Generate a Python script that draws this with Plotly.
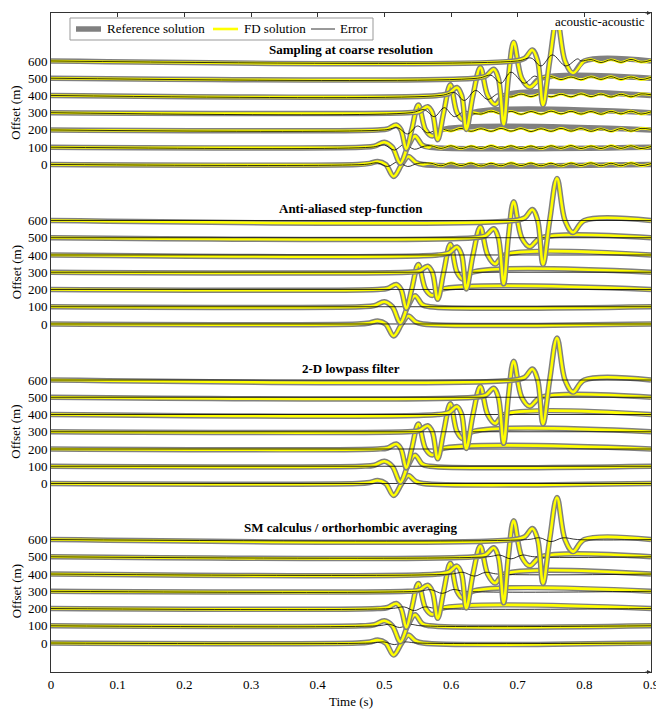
import plotly.graph_objects as go

offsets = [0, 100, 200, 300, 400, 500, 600]
offset_labels = ["0", "100", "200", "300", "400", "500", "600"]
panel_titles = ["Sampling at coarse resolution", "Anti-aliased step-function",
                "2-D lowpass filter", "SM calculus / orthorhombic averaging"]
panel_shift = [2775, 1850, 925, 0]
time_ticks = [0, 0.1, 0.2, 0.3, 0.4, 0.5, 0.6, 0.7, 0.8, 0.9]

# reference traces: key points (time s, amplitude in offset units)
ref_t = [
    [0, 0.46, 0.478, 0.49, 0.502, 0.514, 0.526, 0.536, 0.547, 0.558, 0.9],
    [0, 0.465, 0.485, 0.5, 0.512, 0.524, 0.535, 0.546, 0.557, 0.568, 0.9],
    [0, 0.49, 0.505, 0.518, 0.525, 0.533, 0.541, 0.551, 0.562, 0.572, 0.585, 0.9],
    [0, 0.535, 0.552, 0.565, 0.572, 0.58, 0.589, 0.599, 0.609, 0.618, 0.632, 0.9],
    [0, 0.58, 0.597, 0.609, 0.616, 0.623, 0.633, 0.644, 0.655, 0.666, 0.68, 0.9],
    [0, 0.635, 0.652, 0.664, 0.671, 0.679, 0.686, 0.694, 0.706, 0.718, 0.735, 0.9],
    [0, 0.695, 0.711, 0.722, 0.73, 0.738, 0.748, 0.759, 0.771, 0.783, 0.8, 0.9],
]
ref_a = [
    [0, 0, 6, 17, 0, -70, 0, 46, 12, 0, 0],
    [0, 0, 6, 29, 0, -93, 0, 64, 12, 0, 0],
    [0, 0, 6, 29, 0, -110, 0, 145, 0, -35, 0, 0],
    [0, 0, 6, 35, 0, -157, 0, 162, 0, -41, 0, 0],
    [0, 0, 12, 46, 0, -197, 0, 162, 0, -52, 0, 0],
    [0, 0, 12, 52, 0, -267, 0, 209, 0, -52, 0, 0],
    [0, 0, 17, 64, 0, -255, 0, 244, 0, -70, 0, 0],
]

# coarse sampling: ringing after the arrival
ring_t = [0.57, 0.585, 0.6, 0.615, 0.63, 0.645, 0.66, 0.675, 0.69, 0.705, 0.72, 0.735,
          0.75, 0.765, 0.78, 0.795, 0.81, 0.825, 0.84, 0.855, 0.87, 0.885, 0.9]
ring_a = [
    [7, -8, 9, -7, 8, -9, 7, -8, 9, -7, 8, -8, 7, -9, 8, -7, 9, -8, 7, -8, 9, -7, 5],
    [8, -7, 8, -9, 7, -8, 9, -7, 8, -8, 7, -9, 8, -7, 9, -8, 7, -8, 9, -7, 8, -8, 4],
    [0, 8, -7, 9, -8, 7, -8, 9, -7, 8, -9, 7, -8, 9, -7, 8, -8, 7, -9, 8, -7, 9, 4],
    [0, 0, 0, 0, 0, -8, 9, -7, 8, -9, 7, -8, 9, -7, 8, -8, 7, -9, 8, -7, 9, -8, 5],
    [0, 0, 0, 0, 0, 0, 0, 0, -9, 8, -7, 9, -8, 7, -8, 9, -7, 8, -9, 7, -8, 9, 4],
    [0, 0, 0, 0, 0, 0, 0, 0, 0, 0, 0, 0, 9, -8, 7, -9, 8, -7, 9, -8, 7, -8, 5],
    [0, 0, 0, 0, 0, 0, 0, 0, 0, 0, 0, 0, 0, 0, 0, 0, 8, -9, 7, -8, 9, -7, 4],
]

# error traces
err1_t = [
    [0, 0.47, 0.49, 0.505, 0.52, 0.535, 0.55],
    [0, 0.48, 0.5, 0.515, 0.53, 0.545, 0.56],
    [0, 0.5, 0.52, 0.535, 0.55, 0.565, 0.58],
    [0, 0.54, 0.56, 0.575, 0.59, 0.605, 0.62],
    [0, 0.585, 0.605, 0.62, 0.637, 0.655, 0.67],
    [0, 0.64, 0.66, 0.675, 0.69, 0.71, 0.725],
    [0, 0.7, 0.72, 0.735, 0.752, 0.772, 0.79],
]
err1_a = [
    [0, 0, 9, -12, 15, -12, 6],
    [0, 0, 12, -17, 17, -12, 6],
    [0, 0, 12, -23, 23, -17, 6],
    [0, 0, 17, -23, 29, -23, 9],
    [0, 0, 17, -29, 29, -23, 9],
    [0, 0, 17, -29, 35, -29, 12],
    [0, 0, 17, -29, 35, -29, 12],
]
err4_t = [
    [0, 0.48, 0.5, 0.515, 0.53, 0.55, 0.9],
    [0, 0.49, 0.508, 0.523, 0.538, 0.555, 0.9],
    [0, 0.51, 0.53, 0.545, 0.56, 0.58, 0.9],
    [0, 0.55, 0.57, 0.587, 0.603, 0.62, 0.9],
    [0, 0.6, 0.618, 0.635, 0.652, 0.67, 0.9],
    [0, 0.655, 0.673, 0.69, 0.707, 0.725, 0.9],
    [0, 0.715, 0.733, 0.75, 0.768, 0.79, 0.9],
]
err4_a = [
    [0, 0, 6, -9, 6, 0, 0],
    [0, 0, 8, -10, 8, 0, 0],
    [0, 0, 9, -12, 9, 0, 0],
    [0, 0, 9, -12, 10, 0, 0],
    [0, 0, 10, -12, 10, 0, 0],
    [0, 0, 10, -12, 10, 0, 0],
    [0, 0, 10, -12, 10, 0, 0],
]

legend_names = ["Reference solution", "FD solution", "Error"]
legend_colors = ["#808080", "#ffff00", "black"]
legend_widths = [5.5, 2.6, 0.8]

font = "Liberation Serif"
fig = go.Figure()

for p in range(4):
    s = panel_shift[p]
    for k in range(7):
        base = offsets[k] + s
        fig.add_trace(go.Scatter(
            x=ref_t[k], y=[base + a for a in ref_a[k]], yaxis="y2",
            mode="lines", line=dict(color="#808080", width=5.5, shape="spline"),
            showlegend=False))

        if p == 0:
            end = ref_t[k][-2]
            fx = ref_t[k][:-1] + [t for t in ring_t if t > end]
            fy = ref_a[k][:-1] + [v for t, v in zip(ring_t, ring_a[k]) if t > end]
            ex = err1_t[k] + [t for t in ring_t if t > err1_t[k][-1]]
            ey = err1_a[k] + [v for t, v in zip(ring_t, ring_a[k]) if t > err1_t[k][-1]]
        else:
            fx, fy = ref_t[k], ref_a[k]
            if p == 3:
                ex, ey = err4_t[k], err4_a[k]
            else:
                ex, ey = [0, 0.9], [0, 0]

        fig.add_trace(go.Scatter(
            x=fx, y=[base + a for a in fy], yaxis="y2",
            mode="lines", line=dict(color="#ffff00", width=2.6, shape="spline"),
            showlegend=False))
        fig.add_trace(go.Scatter(
            x=ex, y=[base + a for a in ey], yaxis="y2",
            mode="lines", line=dict(color="black", width=0.8, shape="spline"),
            showlegend=False))

tickvals = []
ticktext = []
for s in panel_shift:
    for o, lab in zip(offsets, offset_labels):
        tickvals.append(o + s)
        ticktext.append(lab)

# page pixel -> paper coordinates (plot area: x 51..651, y 13..672 on the page)
def px(x):
    return (x - 51) / 600

def py(y):
    return (672 - y) / 659

txt = dict(family=font, size=13, color="black")
ann = []
shapes = []
for p in range(4):
    s = panel_shift[p]
    ann.append(dict(text="<b>" + panel_titles[p] + "</b>", x=0.5, xref="paper",
                    y=668 + s, yref="y", xanchor="center", yanchor="middle",
                    showarrow=False, font=txt))
    ann.append(dict(text="Offset (m)", x=px(16), xref="paper", y=300 + s, yref="y",
                    xanchor="center", yanchor="middle", showarrow=False,
                    textangle=-90, font=txt))
ann.append(dict(text="acoustic-acoustic", x=px(647), xref="paper", y=py(22), yref="paper",
                xanchor="right", yanchor="middle", showarrow=False, font=txt))
for yy in [0, 1]:
    ann.append(dict(text="", x=0.9, xref="x", y=yy, yref="paper", ax=-7, ay=0,
                    showarrow=True, arrowhead=2, arrowsize=0.8, arrowwidth=1,
                    arrowcolor="#333"))

# legend box
shapes.append(dict(type="rect", xref="paper", yref="paper", x0=px(70), x1=px(373),
                   y0=py(40), y1=py(18), line=dict(color="#999", width=1),
                   fillcolor="white", layer="above"))
leg_line_x = [(76, 101), (213, 238), (311, 335)]
leg_text_x = [105, 242, 338]
for (a, b), tx, name, c, w in zip(leg_line_x, leg_text_x, legend_names,
                                   legend_colors, legend_widths):
    shapes.append(dict(type="line", xref="paper", yref="paper", x0=px(a), x1=px(b),
                       y0=py(29), y1=py(29), line=dict(color=c, width=w), layer="above"))
    ann.append(dict(text=name, x=px(tx), xref="paper", y=py(29), yref="paper",
                    xanchor="left", yanchor="middle", showarrow=False, font=txt))

# the page body adds an 8 px margin, so the figure is 8 px smaller on each side
fig.update_layout(
    template="none",
    width=656, height=706,
    margin=dict(l=43, r=13, t=5, b=42, autoexpand=False),
    paper_bgcolor="white", plot_bgcolor="white",
    font=txt,
    xaxis=dict(range=[0, 0.9], tickvals=time_ticks, ticktext=[str(v) for v in time_ticks],
               ticks="inside", ticklen=4, tickcolor="#333", showline=True,
               linecolor="#333", linewidth=1, mirror="ticks", showgrid=False,
               zeroline=False, anchor="y", automargin=False, tickfont=txt,
               title=dict(text="Time (s)", standoff=6, font=txt)),
    yaxis=dict(range=[-168, 3653], domain=[0, 1], tickvals=tickvals, ticktext=ticktext,
               ticks="inside", ticklen=4, tickcolor="#333", showline=True,
               linecolor="#333", linewidth=1, mirror="ticks", showgrid=False,
               zeroline=False, automargin=False, tickfont=txt),
    yaxis2=dict(range=[-168, 3554.5], domain=[0, 0.9742], anchor="x", visible=False),
    annotations=ann,
    shapes=shapes,
    showlegend=False,
)

fig.write_html("out.html")
